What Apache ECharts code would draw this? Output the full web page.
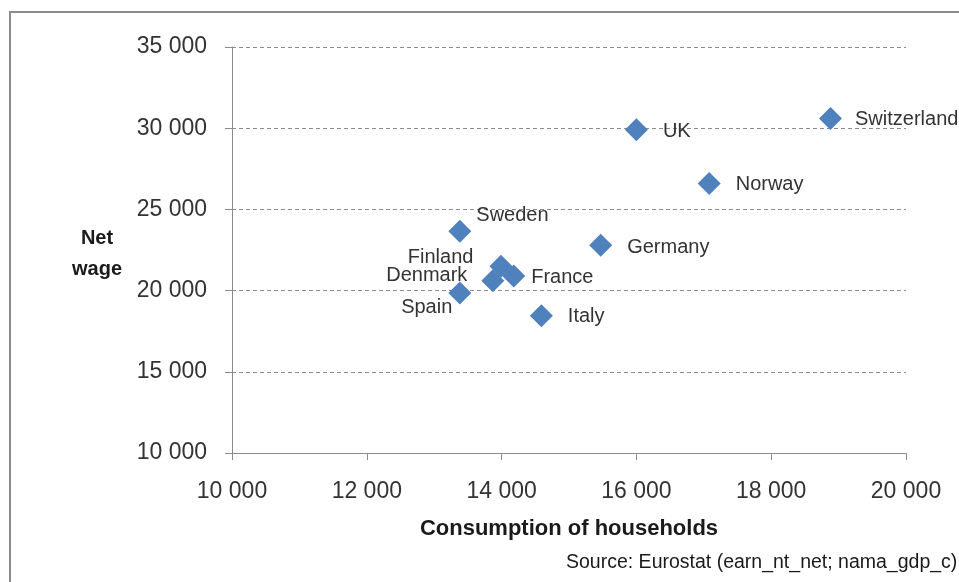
<!DOCTYPE html>
<html>
<head>
<meta charset="utf-8">
<script src="https://cdn.jsdelivr.net/npm/echarts@6/dist/echarts.min.js"></script>
<style>
  html, body { margin: 0; padding: 0; background: #fff; }
  #chart { width: 959px; height: 582px; }
</style>
</head>
<body>
<div id="chart"></div>
<script>
// Countries and their values: household consumption (x) vs net wage (y)
const countries = ['UK', 'Switzerland', 'Norway', 'Germany', 'Sweden', 'Finland', 'France', 'Denmark', 'Spain', 'Italy'];
const consumption = [16000, 18880, 17080, 15470, 13380, 13990, 14180, 13870, 13380, 14590];
const netWage = [29900, 30600, 26600, 22800, 23650, 21500, 20900, 20600, 19850, 18450];

// Axis ranges and ticks
const xMin = 10000, xMax = 20000, xStep = 2000;
const yMin = 10000, yMax = 35000, yStep = 5000;

// Label placement per country
const labelPlacement = {
  UK:          { position: 'right', distance: 15, offset: [0, 2] },
  Switzerland: { position: 'right', distance: 13, offset: [0, 1] },
  Norway:      { position: 'right', distance: 15, offset: [0, 1] },
  Germany:     { position: 'right', distance: 15, offset: [0, 2] },
  Sweden:      { position: 'right', distance: 5,  offset: [0, -16] },
  Finland:     { position: 'left',  distance: 16, offset: [0, -9] },
  France:      { position: 'right', distance: 6,  offset: [0, 2] },
  Denmark:     { position: 'left',  distance: 14, offset: [0, -5] },
  Spain:       { position: 'left',  distance: 0,  offset: [4, 14] },
  Italy:       { position: 'right', distance: 15, offset: [0, 1] }
};

const fontFamily = '"Liberation Sans", Arial, sans-serif';
const textColor = '#333333';
const axisColor = '#8c8c8c';

function spaced(v) {
  return String(Math.round(v)).replace(/\B(?=(\d{3})+(?!\d))/g, ' ');
}

const points = countries.map((name, i) => ({
  name: name,
  value: [consumption[i], netWage[i]],
  label: labelPlacement[name]
}));

const chart = echarts.init(document.getElementById('chart'), null, { renderer: 'canvas' });

chart.setOption({
  animation: false,
  backgroundColor: '#ffffff',
  grid: { left: 232, right: 53, top: 47, bottom: 129, containLabel: false },
  xAxis: {
    type: 'value',
    min: xMin, max: xMax, interval: xStep,
    name: 'Consumption of households',
    nameLocation: 'middle',
    nameGap: 65,
    nameTextStyle: { fontFamily: fontFamily, fontSize: 22, fontWeight: 'bold', color: '#1a1a1a' },
    axisLine: { show: true, lineStyle: { color: axisColor, width: 1 } },
    axisTick: { show: true, length: 7, lineStyle: { color: axisColor } },
    axisLabel: { formatter: spaced, fontFamily: fontFamily, fontSize: 23, color: textColor, margin: 27 },
    splitLine: { show: false }
  },
  yAxis: {
    type: 'value',
    min: yMin, max: yMax, interval: yStep,
    axisLine: { show: true, lineStyle: { color: axisColor, width: 1 } },
    axisTick: { show: true, length: 7, lineStyle: { color: axisColor } },
    axisLabel: { formatter: spaced, fontFamily: fontFamily, fontSize: 23, color: textColor, margin: 25 },
    splitLine: { show: true, lineStyle: { color: axisColor, type: [4, 3], width: 1 } }
  },
  series: [{
    type: 'scatter',
    symbol: 'diamond',
    symbolSize: 23,
    itemStyle: { color: '#4F81BD', opacity: 1 },
    label: {
      show: true,
      formatter: '{b}',
      fontFamily: fontFamily,
      fontSize: 20,
      color: textColor
    },
    data: points
  }],
  graphic: [
    {
      type: 'rect',
      shape: { x: 10, y: 12, width: 1200, height: 800 },
      style: { fill: 'none', stroke: axisColor, lineWidth: 2 },
      silent: true
    },
    {
      // vertical axis title, two centred lines
      type: 'text',
      x: 97,
      y: 254,
      style: {
        text: 'Net\nwage',
        font: 'bold 20px ' + fontFamily,
        fill: '#1a1a1a',
        align: 'center',
        verticalAlign: 'middle',
        lineHeight: 31
      }
    },
    {
      type: 'text',
      left: 566,
      top: 553,
      style: {
        text: 'Source: Eurostat (earn_nt_net; nama_gdp_c)',
        font: '19.5px ' + fontFamily,
        fill: '#1a1a1a'
      }
    }
  ]
});
</script>
</body>
</html>
